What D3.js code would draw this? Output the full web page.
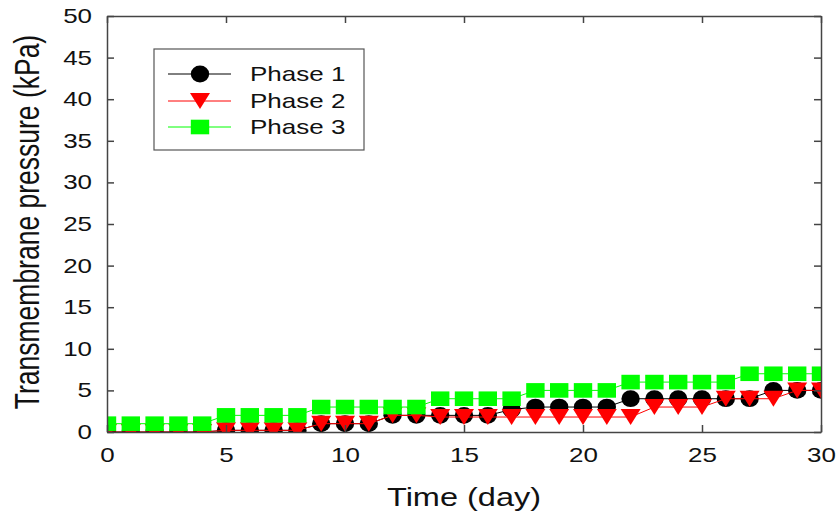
<!DOCTYPE html>
<html>
<head>
<meta charset="utf-8">
<script src="https://cdn.jsdelivr.net/npm/d3@7"></script>
<style>
  body { margin: 0; background: #fff; }
  text { font-family: "Liberation Sans", Arial, sans-serif; fill: #111; }
</style>
</head>
<body>
<div id="chart"></div>
<script>
// TMP over time, three operating phases

const days = [0, 1, 2, 3, 4, 5, 6, 7, 8, 9, 10, 11, 12, 13, 14, 15,
  16, 17, 18, 19, 20, 21, 22, 23, 24, 25, 26, 27, 28, 29, 30];

const phase1 = [0, 0, 0, 0, 0, 0.2, 0.2, 0.2, 0.2, 1, 1, 1, 2, 2, 2, 2,
  2, 2.7, 3, 3, 3, 3, 4, 4, 4, 4, 4, 4, 5, 5, 5];
const phase2 = [0, 0, 0, 0, 0, 0.2, 0.2, 0.2, 0.2, 1, 1, 1, 2, 2, 1.8, 1.8,
  1.8, 1.8, 1.8, 1.8, 1.8, 1.8, 1.8, 3, 3, 3, 4, 4, 4, 5, 5];
const phase3 = [1, 1, 1, 1, 1, 2, 2, 2, 2, 3, 3, 3, 3, 3, 4, 4,
  4, 4, 5, 5, 5, 5, 6, 6, 6, 6, 6, 7, 7, 7, 7];

const xTicks = [0, 5, 10, 15, 20, 25, 30];
const yTicks = [0, 5, 10, 15, 20, 25, 30, 35, 40, 45, 50];

const seriesNames = ["Phase 1", "Phase 2", "Phase 3"];
const seriesColors = ["#000000", "#ff0000", "#00ff00"];
const seriesShapes = ["circle", "triangle", "square"];

// the picture is stretched sideways, so text gets the same squeeze
const stretch = 1.3;

const W = 837, H = 513;
const plot = { left: 107, right: 821, top: 16, bottom: 432 };

const svg = d3.select("#chart").append("svg")
  .attr("width", W)
  .attr("height", H);

const x = d3.scaleLinear().domain([0, 30]).range([plot.left, plot.right]);
const y = d3.scaleLinear().domain([0, 50]).range([plot.bottom, plot.top]);

svg.append("clipPath").attr("id", "clip")
  .append("rect")
  .attr("x", plot.left)
  .attr("y", plot.top)
  .attr("width", plot.right - plot.left)
  .attr("height", plot.bottom - plot.top);

// marker drawing helper
function drawMarker(g, shape, color, cx, cy) {
  if (shape === "circle") {
    g.append("ellipse")
      .attr("cx", cx).attr("cy", cy)
      .attr("rx", 9.2).attr("ry", 8.4)
      .attr("fill", color);
  } else if (shape === "triangle") {
    const w = 10, h = 16;
    g.append("path")
      .attr("d", `M${cx - w},${cy - h / 2}L${cx + w},${cy - h / 2}L${cx},${cy + h / 2}Z`)
      .attr("fill", color);
  } else {
    g.append("rect")
      .attr("x", cx - 9.2).attr("y", cy - 7.3)
      .attr("width", 18.4).attr("height", 14.6)
      .attr("fill", color);
  }
}

const dataArea = svg.append("g").attr("clip-path", "url(#clip)");

[phase1, phase2, phase3].forEach((vals, i) => {
  const pts = days.map((d, j) => ({ day: d, v: vals[j] }));
  const line = d3.line().x(d => x(d.day)).y(d => y(d.v));
  const g = dataArea.append("g");
  g.append("path")
    .datum(pts)
    .attr("d", line)
    .attr("fill", "none")
    .attr("stroke", seriesColors[i])
    .attr("stroke-width", 1);
  pts.forEach(p => drawMarker(g, seriesShapes[i], seriesColors[i], x(p.day), y(p.v)));
});

// axes, ticks pointing inward
const axisColor = "#444";
const tickLen = 7;

const xAxis = svg.append("g")
  .attr("transform", `translate(0,${plot.bottom})`)
  .call(d3.axisBottom(x).tickValues(xTicks).tickSizeInner(-tickLen).tickSizeOuter(0).tickPadding(16));

const yAxis = svg.append("g")
  .attr("transform", `translate(${plot.left},0)`)
  .call(d3.axisLeft(y).tickValues(yTicks).tickSizeInner(-tickLen).tickSizeOuter(0).tickPadding(11.5));

svg.append("g")
  .attr("transform", `translate(${plot.right},0)`)
  .call(d3.axisRight(y).tickValues(yTicks).tickSizeInner(-tickLen).tickSizeOuter(0).tickFormat(""));

svg.append("g")
  .attr("transform", `translate(0,${plot.top})`)
  .call(d3.axisTop(x).tickValues(xTicks).tickSizeInner(-tickLen).tickSizeOuter(0).tickFormat(""));

svg.selectAll(".domain, .tick line")
  .attr("stroke", axisColor)
  .attr("stroke-width", 1.5);

[xAxis, yAxis].forEach(a => {
  a.selectAll("text")
    .attr("font-family", "Liberation Sans, Arial, sans-serif")
    .attr("font-size", 20)
    .attr("fill", "#111")
    .attr("transform", `scale(${stretch},1)`);
});

// axis titles
svg.append("text")
  .attr("transform", `translate(${(plot.left + plot.right) / 2},506) scale(${stretch},1)`)
  .attr("text-anchor", "middle")
  .style("font-size", "25px")
  .text("Time (day)");

svg.append("text")
  .attr("transform", `translate(39,${(plot.top + plot.bottom) / 2 - 2}) scale(${stretch},1) rotate(-90)`)
  .attr("text-anchor", "middle")
  .style("font-size", "26.5px")
  .text("Transmembrane pressure (kPa)");

// legend
const legend = svg.append("g");
legend.append("rect")
  .attr("x", 154).attr("y", 49)
  .attr("width", 210).attr("height", 101)
  .attr("fill", "#fff")
  .attr("stroke", "#555")
  .attr("stroke-width", 1.2);

const rowY = [74, 101, 127];
seriesNames.forEach((name, i) => {
  legend.append("line")
    .attr("x1", 168).attr("x2", 231)
    .attr("y1", rowY[i]).attr("y2", rowY[i])
    .attr("stroke", seriesColors[i])
    .attr("stroke-width", 1);
  drawMarker(legend, seriesShapes[i], seriesColors[i], 200, rowY[i]);
  legend.append("text")
    .attr("transform", `translate(250,${rowY[i] + 7}) scale(${stretch},1)`)
    .style("font-size", "20px")
    .text(name);
});
</script>
</body>
</html>
